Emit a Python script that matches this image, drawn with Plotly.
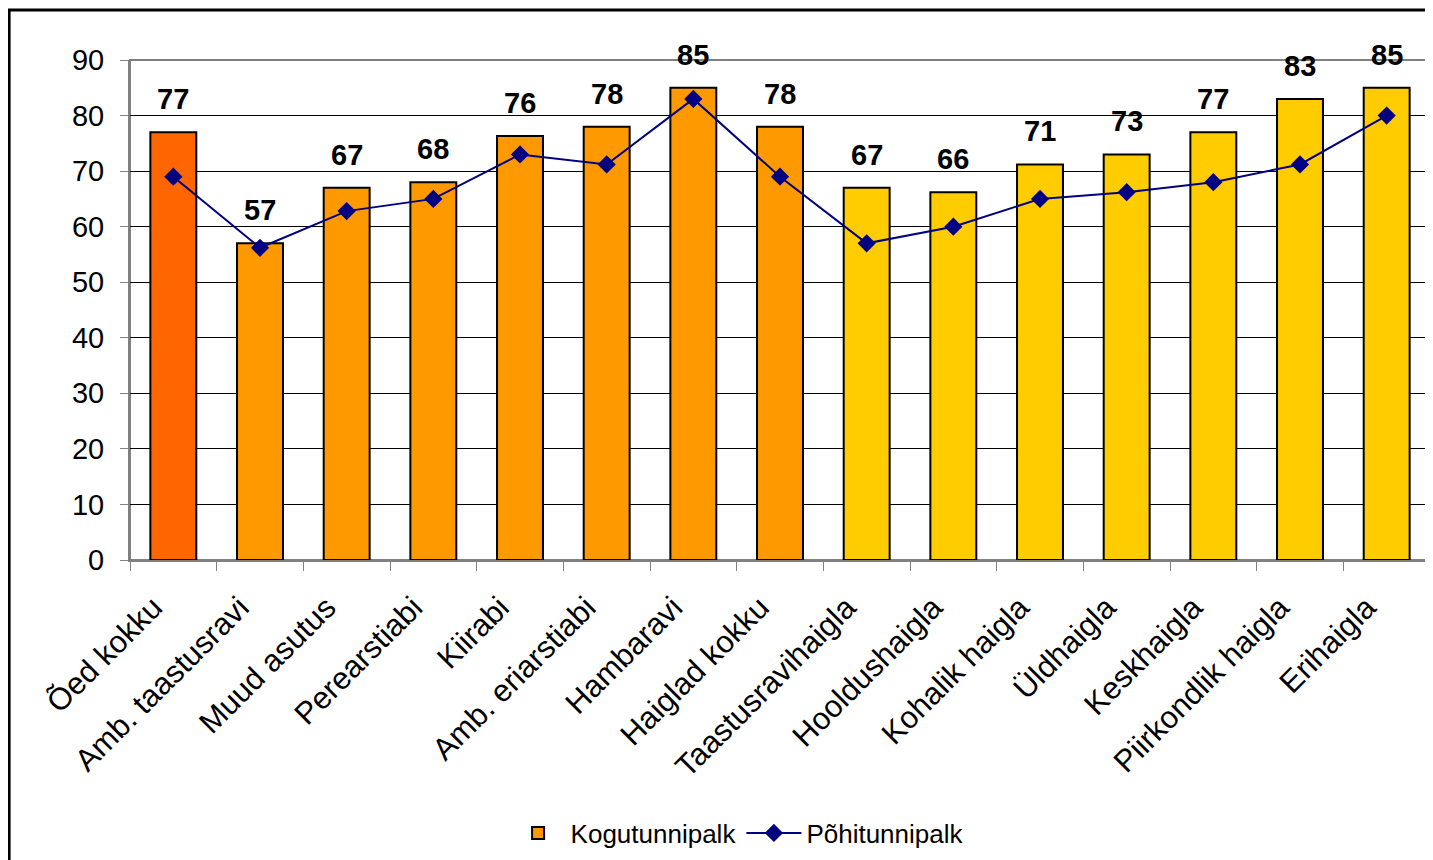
import plotly.graph_objects as go

categories = ["Õed kokku", "Amb. taastusravi", "Muud asutus", "Perearstiabi", "Kiirabi",
              "Amb. eriarstiabi", "Hambaravi", "Haiglad kokku", "Taastusravihaigla",
              "Hooldushaigla", "Kohalik haigla", "Üldhaigla", "Keskhaigla",
              "Piirkondlik haigla", "Erihaigla"]
kogu = [77, 57, 67, 68, 76.3, 78, 85, 78, 67, 66.2, 71.2, 73, 77, 83, 85]
pohi = [69, 56.2, 62.8, 65, 73, 71.2, 83, 69, 57, 60, 65, 66.2, 68, 71.2, 80]
bar_colors = ["#FF6600"] + ["#FF9900"] * 7 + ["#FFCC00"] * 7

FONT = "Arial, Liberation Sans, sans-serif"

fig = go.Figure()
fig.add_trace(go.Bar(
    x=categories, y=kogu, name="Kogutunnipalk", showlegend=False,
    marker=dict(color=bar_colors, line=dict(color="black", width=2)),
))
# legend entry in the middle-bar colour
fig.add_trace(go.Bar(
    x=[None], y=[None], name="Kogutunnipalk",
    marker=dict(color="#FF9900", line=dict(color="black", width=2)),
))
fig.add_trace(go.Scatter(
    x=categories, y=pohi, name="Põhitunnipalk", mode="lines+markers",
    line=dict(color="#000080", width=2),
    marker=dict(symbol="diamond", size=14, color="#000080"),
))

for c, v in zip(categories, kogu):
    fig.add_annotation(x=c, y=v, text=f"<b>{round(v)}</b>", showarrow=False,
                       yshift=33, font=dict(size=29, color="black", family=FONT))

# page body has an 8px margin, so the figure is offset by 8px
fig.update_layout(
    width=1425, height=852,
    margin=dict(l=122, r=3, t=52, b=300),
    plot_bgcolor="white", paper_bgcolor="white",
    font=dict(family=FONT, size=28, color="black"),
    barmode="overlay",
    bargap=0.47,
    xaxis=dict(range=[-0.5, len(categories) - 0.5],
               showline=True, linecolor="#808080", linewidth=2,
               ticks="outside", tickson="boundaries", ticklen=9,
               tickcolor="#808080", tickangle=-45, tickfont=dict(size=31),
               ticklabelstandoff=15, ticklabelshift=-20),
    yaxis=dict(range=[0, 90], dtick=10, showgrid=True, gridcolor="black",
               gridwidth=1, showline=True, linecolor="#808080", linewidth=2,
               ticks="outside", ticklen=8, tickcolor="#808080",
               tickfont=dict(size=29), zeroline=False, ticklabelstandoff=10),
    legend=dict(orientation="h", x=0.467, xanchor="center", y=-0.546,
                yanchor="middle", font=dict(size=26), traceorder="normal",
                itemwidth=55),
    shapes=[
        dict(type="rect", xref="paper", yref="paper", x0=0, x1=1, y0=0, y1=1,
             line=dict(color="#808080", width=2), layer="below"),
        dict(type="rect", xref="paper", yref="paper", x0=-0.093, x1=1.01,
             y0=-0.7, y1=1.1, line=dict(color="black", width=3)),
    ],
)

fig.write_html("out.html")
